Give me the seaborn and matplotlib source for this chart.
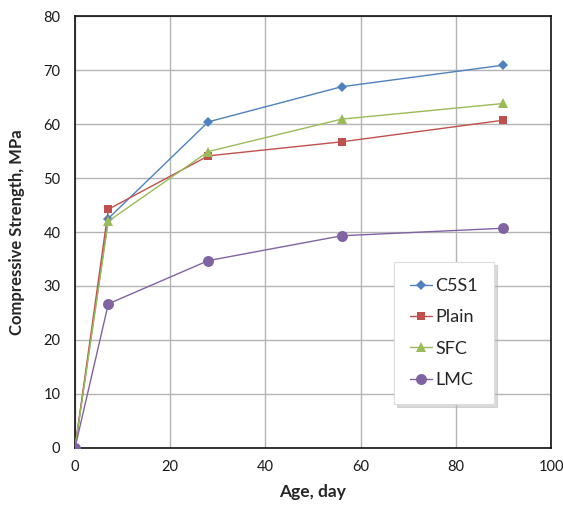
import matplotlib
matplotlib.use("Agg")
import matplotlib.pyplot as plt
from matplotlib.lines import Line2D
import seaborn as sns
import pandas as pd

# Curing age (days) and compressive strength (MPa) for each mix
age_days = [0, 7, 28, 56, 90]
c5s1 = [0, 42.5, 60.4, 66.9, 70.9]
plain = [0, 44.2, 54.1, 56.7, 60.7]
sfc = [0, 42.0, 54.9, 60.9, 63.8]
lmc = [0, 26.7, 34.7, 39.3, 40.7]
mixes = ["C5S1", "Plain", "SFC", "LMC"]
x_ticks = [0, 20, 40, 60, 80, 100]
y_ticks = [0, 10, 20, 30, 40, 50, 60, 70, 80]

df = pd.DataFrame({
    "Age": age_days * 4,
    "Strength": c5s1 + plain + sfc + lmc,
    "Mix": sum([[m] * len(age_days) for m in mixes], []),
})

sns.set_style("white")
plt.rcParams["font.family"] = ["Lato", "DejaVu Sans"]

palette = {"C5S1": "#4F81BD", "Plain": "#C0504D", "SFC": "#9BBB59", "LMC": "#8064A2"}
markers = {"C5S1": "D", "Plain": "s", "SFC": "^", "LMC": "o"}
msize = {"C5S1": 5.3, "Plain": 6.4, "SFC": 7.6, "LMC": 7.9}

fig = plt.figure(figsize=(5.63, 5.07), dpi=100)
ax = fig.add_axes([0.1332, 0.1164, 0.8455, 0.852])

sns.lineplot(data=df, x="Age", y="Strength", hue="Mix", style="Mix",
             hue_order=mixes, style_order=mixes, palette=palette,
             markers=markers, dashes=False, linewidth=1.0,
             markeredgewidth=0, ax=ax, legend=False, zorder=3)

# per-series marker sizes
for line, m in zip(ax.get_lines(), mixes):
    line.set_markersize(msize[m])

ax.set_xlim(0, 100)
ax.set_ylim(0, 80)
ax.set_xticks(x_ticks)
ax.set_yticks(y_ticks)
ax.grid(True, color="#B4B4B4", linewidth=1.0)
ax.set_axisbelow(True)
for s in ax.spines.values():
    s.set_color("#111111")
    s.set_linewidth(1.2)
ax.tick_params(axis="x", labelsize=10.5, colors="#1a1a1a", length=0, pad=9)
ax.tick_params(axis="y", labelsize=10.5, colors="#1a1a1a", length=0, pad=10.5)
ax.set_xlabel("Age, day", fontsize=12.5, fontweight="bold", labelpad=7)
ax.set_ylabel("Compressive Strength, MPa", fontsize=12, fontweight="bold", labelpad=13)

handles = [Line2D([], [], color=palette[m], marker=markers[m], lw=1.0,
                  markersize=msize[m], markeredgewidth=0)
           for m in mixes]
leg = ax.legend(handles, mixes, loc="upper left", bbox_to_anchor=(0.670, 0.431, 0.210, 0.0),
                mode="expand", borderaxespad=0, fontsize=13, labelspacing=0.85,
                handlelength=1.2, handletextpad=0.2, borderpad=0.9,
                frameon=True, fancybox=False,
                shadow={"color": "#b0b0b0", "alpha": 0.45, "ox": 2, "oy": -2}, framealpha=1)
leg.get_frame().set_edgecolor("#DDDDDD")
leg.get_frame().set_linewidth(0.8)

fig.savefig("out.png", dpi=100)
